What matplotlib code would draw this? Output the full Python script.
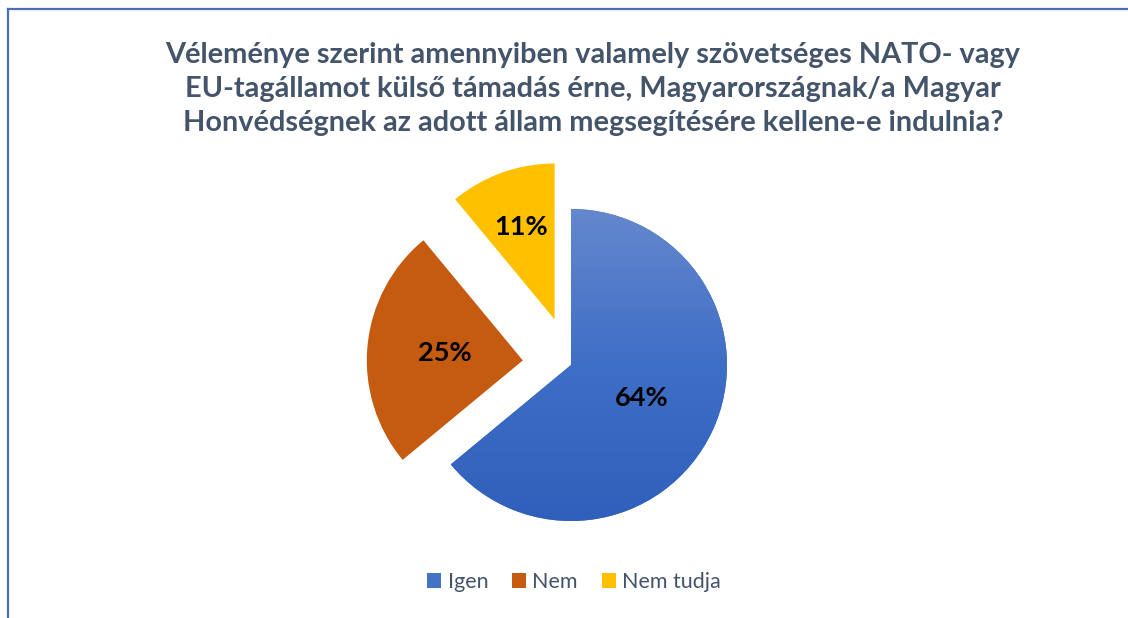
import numpy as np
import matplotlib.pyplot as plt
from matplotlib.patches import Patch
from matplotlib.lines import Line2D
from matplotlib.colors import LinearSegmentedColormap

plt.rcParams['font.family'] = ['Lato', 'DejaVu Sans']

# adatok
labels = ['Igen', 'Nem', 'Nem tudja']
values = [64, 25, 11]
colors = ['#4472C4', '#C55A11', '#FFC000']
explode = [0, 0.31, 0.31]
label_dist = [0.5, 0.5, 0.63]
title = ('Véleménye szerint amennyiben valamely szövetséges NATO- vagy\n'
         'EU-tagállamot külső támadás érne, Magyarországnak/a Magyar\n'
         'Honvédségnek az adott állam megsegítésére kellene-e indulnia?')

text_col = '#44546A'

fig = plt.figure(figsize=(11.28, 6.18), dpi=100)

# keret (csak bal és felső oldal látszik)
fig.add_artist(Line2D([8 / 1128, 8 / 1128], [0, 1 - 9 / 618], color='#4A6FB5', lw=1.6))
fig.add_artist(Line2D([8 / 1128, 1], [1 - 9 / 618, 1 - 9 / 618], color='#4A6FB5', lw=1.6))

fig.text(593 / 1128, 1 - 89 / 618, title, ha='center', va='center', fontsize=20.8,
         fontweight='bold', color=text_col, linespacing=1.39)

ax = fig.add_axes([0.2849, 0.0055, 0.4426, 0.8078])
wedges, _ = ax.pie(values, explode=explode, colors=colors, startangle=90,
                   counterclock=False, wedgeprops=dict(linewidth=0))
ax.set_xlim(-1.6, 1.6)
ax.set_ylim(-1.6, 1.6)
ax.set_aspect('equal')
ax.axis('off')

# színátmenet az "Igen" szeletre
grad = np.linspace(0, 1, 256).reshape(-1, 1)
cmap = LinearSegmentedColormap.from_list('kek', ['#2F5FBA', '#3F6EC6', '#6689CD'])
im = ax.imshow(grad, cmap=cmap, extent=(-1.05, 1.05, -1.05, 1.05), origin='lower',
               aspect='auto', zorder=wedges[0].get_zorder() + 0.1)
im.set_clip_path(wedges[0])

for w, v, d in zip(wedges, values, label_dist):
    mid = np.deg2rad((w.theta1 + w.theta2) / 2)
    cx, cy = w.center
    ax.text(cx + d * np.cos(mid), cy + d * np.sin(mid), f'{v}%', ha='center', va='center',
            fontsize=19.5, fontweight='bold', color='black', zorder=5)

handles = [Patch(facecolor=c, edgecolor='none') for c in colors]
leg = fig.legend(handles, labels, loc='center', bbox_to_anchor=(574 / 1128, 1 - 582 / 618),
                 ncol=3, frameon=False, fontsize=15.5, handlelength=0.65, handleheight=0.65,
                 handletextpad=0.3, columnspacing=1.1)
for t in leg.get_texts():
    t.set_color(text_col)

fig.savefig('out.png', dpi=100)
